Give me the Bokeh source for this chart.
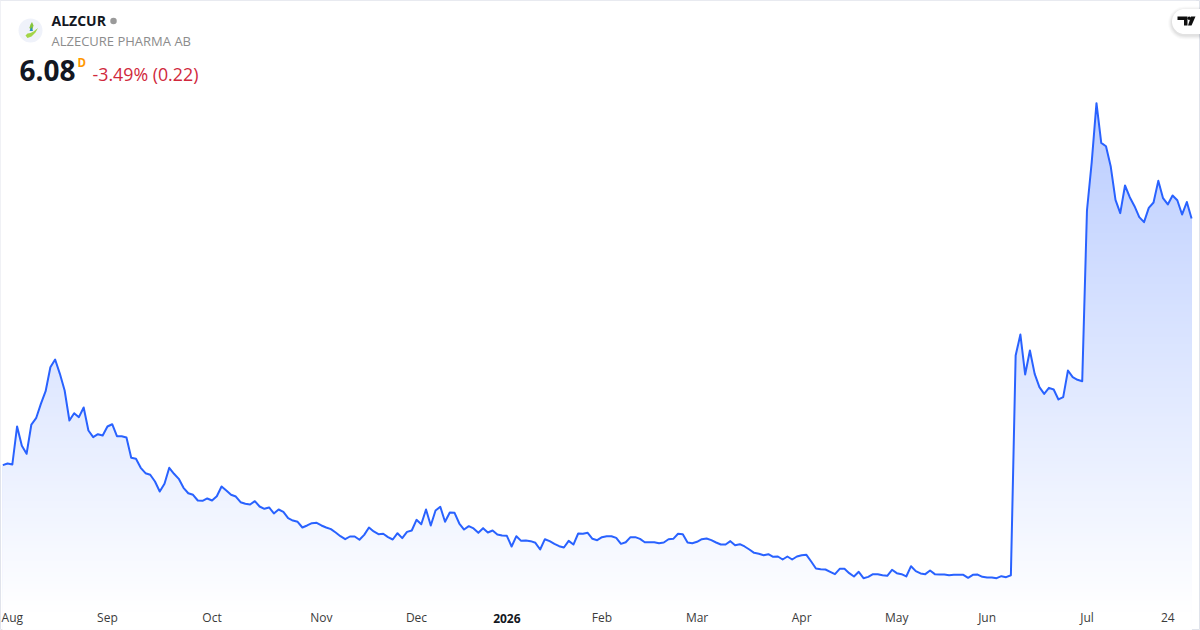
import numpy as np
from bokeh.plotting import figure
from bokeh.models import Range1d, LinearAxis, FixedTicker, Label
from bokeh.embed import file_html
from bokeh.resources import INLINE

symbol = "ALZCUR"
company = "ALZECURE PHARMA AB"
last_price = "6.08"
interval = "D"
change_text = "-3.49% (0.22)"

tick_index = [2, 22, 44, 67, 87, 126, 146, 168, 188, 207, 228, 245]
tick_labels = ["Aug", "Sep", "Oct", "Nov", "Dec", "Feb", "Mar", "Apr", "May", "Jun", "Jul", "24"]
year_index = [106]
year_labels = ["2026"]

prices_aug_oct = [
    2.791, 2.813, 2.800, 3.307, 3.049, 2.943, 3.333, 3.417, 3.609, 3.777, 4.097, 4.200, 4.009, 3.787, 3.387, 3.484,
    3.431, 3.560, 3.253, 3.164, 3.204, 3.187, 3.307, 3.337, 3.177, 3.177, 3.160, 2.889, 2.876, 2.756, 2.684, 2.663,
    2.573, 2.440, 2.543, 2.756, 2.676, 2.609, 2.489, 2.417, 2.396, 2.320, 2.316, 2.347, 2.320, 2.377, 2.507, 2.453,
    2.396, 2.373, 2.297, 2.276, 2.267, 2.311, 2.240, 2.209, 2.227, 2.147, 2.200, 2.169, 2.084, 2.053, 2.036, 1.960,
]
prices_nov_jan = [
    1.987, 2.018, 2.022, 1.987, 1.960, 1.938, 1.893, 1.844, 1.804, 1.840, 1.840, 1.796, 1.862, 1.960, 1.907, 1.871,
    1.876, 1.831, 1.800, 1.884, 1.818, 1.902, 1.920, 2.062, 2.004, 2.200, 1.987, 2.187, 2.236, 2.036, 2.160, 2.156,
    2.013, 1.933, 1.978, 1.947, 1.889, 1.951, 1.893, 1.920, 1.867, 1.853, 1.849, 1.707, 1.844, 1.782, 1.787, 1.778,
    1.756, 1.667, 1.804, 1.778, 1.742, 1.711, 1.693, 1.782, 1.733, 1.880, 1.876, 1.889, 1.809, 1.791, 1.831,
]
prices_feb_jun = [
    1.844, 1.844, 1.822, 1.742, 1.764, 1.831, 1.831, 1.809, 1.764, 1.764, 1.764, 1.751, 1.760, 1.804, 1.809, 1.876,
    1.871, 1.760, 1.751, 1.769, 1.804, 1.813, 1.791, 1.760, 1.733, 1.733, 1.778, 1.724, 1.738, 1.707, 1.667, 1.622,
    1.609, 1.591, 1.604, 1.569, 1.573, 1.533, 1.573, 1.533, 1.573, 1.591, 1.596, 1.507, 1.413, 1.404, 1.400, 1.369,
    1.338, 1.409, 1.409, 1.351, 1.307, 1.369, 1.284, 1.302, 1.338, 1.338, 1.324, 1.316, 1.396, 1.351, 1.338, 1.307,
    1.444, 1.378, 1.347, 1.338, 1.387, 1.338, 1.333, 1.333, 1.324, 1.329, 1.329, 1.329, 1.289, 1.329, 1.333, 1.302,
    1.293, 1.293, 1.284, 1.311, 1.298, 1.324,
]
prices_jun_jul = [
    4.253, 4.533, 4.000, 4.320, 4.009, 3.831, 3.742, 3.822, 3.800, 3.667, 3.698, 4.053, 3.964, 3.929, 3.911, 6.187,
    6.831, 7.618, 7.089, 7.044, 6.773, 6.329, 6.151, 6.520, 6.364, 6.244, 6.098, 6.031, 6.222, 6.293, 6.582, 6.351,
    6.267, 6.387, 6.324, 6.133, 6.300, 6.080,
]
prices = np.array(prices_aug_oct + prices_nov_jan + prices_feb_jun + prices_jun_jul)
index = np.arange(len(prices))

W, H = 1200, 630
X0, DX = 2.33, 4.755
PX_PER_UNIT, ZERO_PX = 75.0, 674.0


def xd(sx):
    return (np.asarray(sx, dtype=float) - X0) / DX


def yd(sy):
    return (ZERO_PX - np.asarray(sy, dtype=float)) / PX_PER_UNIT


p = figure(
    width=W, height=H, output_backend="svg", toolbar_location=None,
    x_range=Range1d(float(xd(0)), float(xd(W))), y_range=Range1d(float(yd(H)), float(yd(0))),
    x_axis_location=None, y_axis_location=None, min_border=0,
    background_fill_color="white", border_fill_color="white",
    outline_line_color="#e0e3eb", outline_line_width=1,
)
p.grid.visible = False

# Vertical gradient below the line: painted bands, then a white mask above the line
band_edges = np.arange(100, 616, 4.0)
band_alpha = np.clip(0.32 * (614 - band_edges) / (614 - 102), 0, 1)
band_colors = [
    "#%02x%02x%02x" % tuple(int(round(255 + (c - 255) * a)) for c in (41, 98, 255)) for a in band_alpha
]
p.quad(left=index[0], right=index[-1], top=yd(band_edges), bottom=float(yd(H - 1)),
       fill_color=band_colors, line_color=None)
mask_x = np.r_[index[0] - 1, index, index[-1] + 1]
mask_y = np.r_[prices[0], prices, prices[-1]]
p.varea(x=mask_x, y1=mask_y, y2=float(yd(0)), fill_color="white")
p.line(index, prices, line_color="#2962FF", line_width=2, line_join="round")

# Time axes
for ticks, labels, style, color, loc in (
    (tick_index, tick_labels, "normal", "#3b3b3b", 602.5),
    (year_index, year_labels, "bold", "#131722", 607),
):
    ax = LinearAxis(fixed_location=float(yd(loc)), ticker=FixedTicker(ticks=ticks),
                    major_label_overrides=dict(zip(ticks, labels)))
    ax.axis_line_color = None
    ax.major_tick_line_color = None
    ax.minor_tick_line_color = None
    ax.major_label_text_font = "Open Sans"
    ax.major_label_text_font_size = "12px"
    ax.major_label_text_font_style = style
    ax.major_label_text_color = color
    ax.major_label_standoff = 0
    p.add_layout(ax, "below")

# Header
for text, sx, sy, size, style, color in (
    (symbol, 51, 19.5, "14px", "bold", "#131722"),
    (company, 51, 40, "13px", "normal", "#8c8c8c"),
    (last_price, 19, 70, "28px", "bold", "#131722"),
    (interval, 77, 61.5, "11.5px", "bold", "#ff9800"),
    (change_text, 92, 73.5, "17.8px", "normal", "#d0283c"),
):
    p.add_layout(Label(x=float(xd(sx)), y=float(yd(sy)), text=text, text_font="Open Sans",
                       text_font_size=size, text_font_style=style, text_color=color,
                       text_baseline="middle", text_align="left"))

p.scatter([xd(113)], [yd(20.5)], size=6.5, marker="circle", fill_color="#9a9a9a", line_color=None)

# Company logo
p.scatter([xd(30)], [yd(30)], size=24, marker="circle", fill_color="#eff2fa", line_color=None)
p.patch(xd([25, 27, 30, 33, 37.5, 35, 31, 27]), yd([35, 33, 32.5, 31, 27.5, 32, 36, 37.5]),
        fill_color="#a3d548", line_color=None)
p.patch(xd([31.5, 33, 32, 30, 29, 30]), yd([21.5, 25, 29, 30, 27, 24]), fill_color="#86c53c", line_color=None)
p.patch(xd([29, 31, 32.5]), yd([30.5, 26.5, 30.5]), fill_color="#2a8fc7", line_color=None)


def tab(grow):
    t = np.linspace(np.pi / 2, 3 * np.pi / 2, 24)
    r = 12.5 + grow
    return np.r_[1184 + r * np.cos(t), 1201, 1201], np.r_[21 - r * np.sin(t), 21 + r, 21 - r]


# TradingView badge with soft shadow
for grow, alpha in ((4, 0.02), (3, 0.025), (2, 0.03), (1, 0.04)):
    sx, sy = tab(grow)
    p.patch(xd(sx), yd(sy + 1.5), fill_color="#000000", fill_alpha=alpha, line_color=None)
sx, sy = tab(0)
p.patch(xd(sx), yd(sy), fill_color="white", line_color=None)
p.patch(xd([1177, 1187, 1187, 1183.5, 1183.5, 1177]),
        yd([16, 16, 25, 25, 19.5, 19.5]), fill_color="#0f0f0f", line_color=None)
p.patch(xd([1190.5, 1195, 1191, 1187.5]), yd([16, 16, 25, 25]), fill_color="#0f0f0f", line_color=None)
p.scatter([xd(1188.7)], [yd(17.8)], size=3.6, marker="circle", fill_color="#0f0f0f", line_color=None)

open("out.html", "w").write(file_html(p, INLINE))
